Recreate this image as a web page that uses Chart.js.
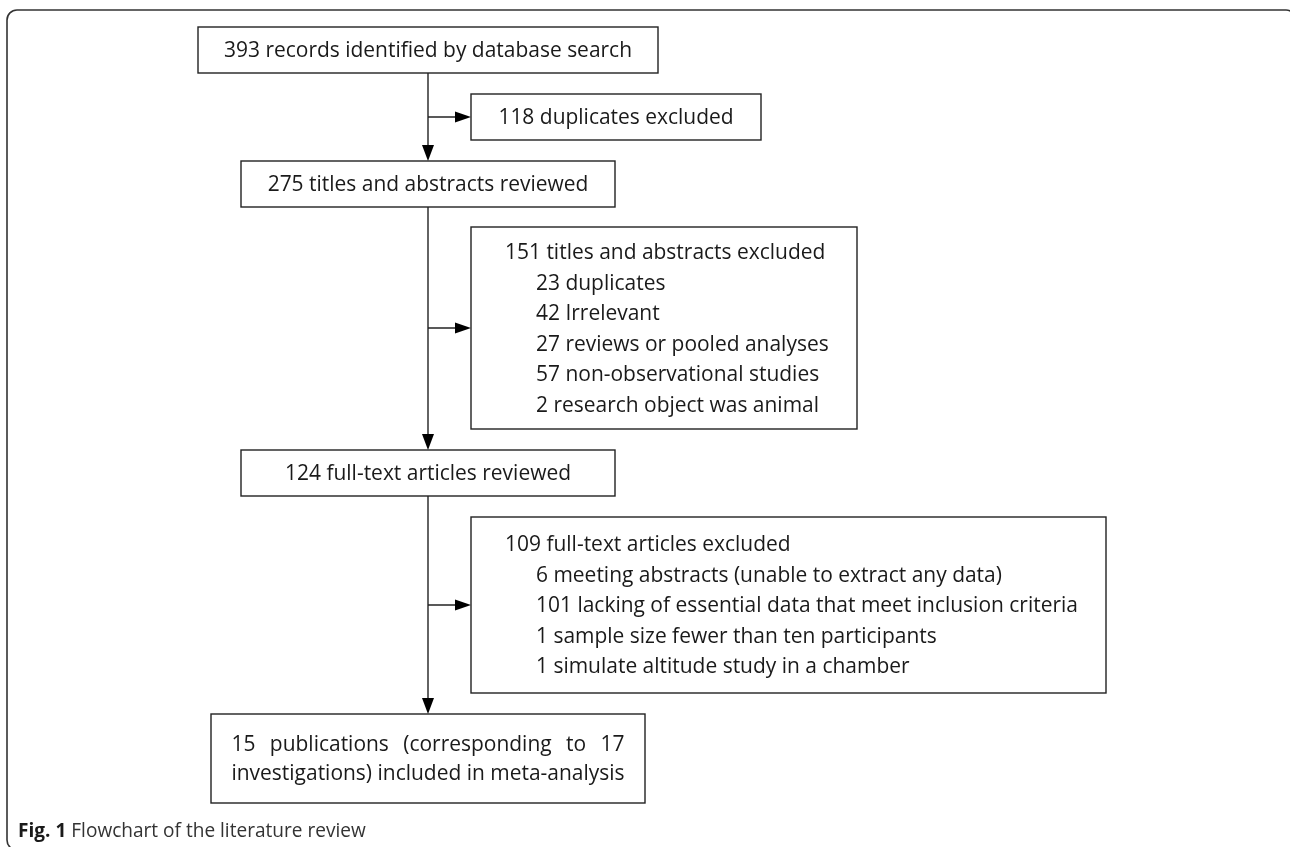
<!DOCTYPE html>
<html>
<head>
<meta charset="utf-8">
<script src="https://cdn.jsdelivr.net/npm/chart.js@4/dist/chart.umd.min.js"></script>
<style>
  html, body { margin: 0; padding: 0; background: #fff; }
  #flow { display: block; }
</style>
</head>
<body>
<canvas id="flow" width="1290" height="847"></canvas>
<script>
// Données du flowchart (effectifs à chaque étape)
const stageCounts = [393, 275, 124, 15];
const stageTexts = [
  'records identified by database search',
  'titles and abstracts reviewed',
  'full-text articles reviewed',
  'publications (corresponding to 17\ninvestigations) included in meta-analysis'
];
const excludedCounts = [118, 151, 109];
const excludedTexts = ['duplicates excluded', 'titles and abstracts excluded', 'full-text articles excluded'];
const reasonCounts151 = [23, 42, 27, 57, 2];
const reasonTexts151 = ['duplicates', 'Irrelevant', 'reviews or pooled analyses', 'non-observational studies', 'research object was animal'];
const reasonCounts109 = [6, 101, 1, 1];
const reasonTexts109 = [
  'meeting abstracts (unable to extract any data)',
  'lacking of essential data that meet inclusion criteria',
  'sample size fewer than ten participants',
  'simulate altitude study in a chamber'
];
const captionBold = 'Fig. 1';
const captionText = 'Flowchart of the literature review';

// mise en page, en unités des axes (0..1290, 0..847)
const layout = {
  spineX: 428,
  main: [[198, 658, 27, 73], [241, 615, 161, 207], [241, 615, 450, 496], [211, 645, 714, 803]],
  side: [[471, 761, 94, 140], [471, 857, 227, 429], [471, 1106, 517, 693]],
  sideTextX: 505,
  indentX: 536,
  lineGap: 30.5,
  finalGap: 29,
  caption: [18, 831],
  frame: [7, 10, 1296, 850]
};

const FONT = '"Open Sans", "Noto Sans", sans-serif';
const SIZE = 22;
const lineColor = '#222';
const textColor = '#1a1a1a';

const flowPlugin = {
  id: 'flow',
  afterDraw(chart) {
    const ctx = chart.ctx;
    const xs = chart.scales.x, ys = chart.scales.y;
    const px = v => xs.getPixelForValue(v);
    const py = v => ys.getPixelForValue(v);

    ctx.save();
    ctx.font = SIZE + 'px ' + FONT;
    // on resserre le texte pour retrouver la largeur de la police d'origine
    const fit = 408 / ctx.measureText(stageCounts[0] + ' ' + stageTexts[0]).width;

    function text(str, x, y, align) {
      ctx.save();
      ctx.font = SIZE + 'px ' + FONT;
      ctx.fillStyle = textColor;
      ctx.textBaseline = 'middle';
      const w = ctx.measureText(str).width * fit;
      let x0 = align === 'center' ? x - w / 2 : x;
      ctx.translate(x0, y + 1);
      ctx.scale(fit, 1);
      ctx.fillText(str, 0, 0);
      ctx.restore();
    }

    function box(b) {
      ctx.strokeStyle = lineColor;
      ctx.lineWidth = 1.4;
      ctx.strokeRect(px(b[0]), py(b[2]), px(b[1]) - px(b[0]), py(b[3]) - py(b[2]));
    }

    function arrowHead(x, y, dir) {
      ctx.fillStyle = '#000';
      ctx.beginPath();
      if (dir === 'down') {
        ctx.moveTo(x, y); ctx.lineTo(x - 6, y - 16); ctx.lineTo(x + 6, y - 16);
      } else {
        ctx.moveTo(x, y); ctx.lineTo(x - 16, y - 5.5); ctx.lineTo(x - 16, y + 5.5);
      }
      ctx.closePath();
      ctx.fill();
    }

    // cadre arrondi de la figure
    const f = layout.frame;
    ctx.strokeStyle = '#333';
    ctx.lineWidth = 1.6;
    ctx.beginPath();
    ctx.roundRect(px(f[0]), py(f[1]), px(f[2]) - px(f[0]), py(f[3]) - py(f[1]), 10);
    ctx.stroke();

    // colonne principale
    const sx = px(layout.spineX);
    ctx.strokeStyle = lineColor;
    ctx.lineWidth = 1.4;
    for (let i = 0; i < layout.main.length - 1; i++) {
      const top = py(layout.main[i][3]);
      const bot = py(layout.main[i + 1][2]);
      ctx.beginPath(); ctx.moveTo(sx, top); ctx.lineTo(sx, bot - 10); ctx.stroke();
      arrowHead(sx, bot, 'down');
      // flèche vers la boîte d'exclusion
      const s = layout.side[i];
      const ay = py((s[2] + s[3]) / 2);
      ctx.strokeStyle = lineColor;
      ctx.beginPath(); ctx.moveTo(sx, ay); ctx.lineTo(px(s[0]) - 10, ay); ctx.stroke();
      arrowHead(px(s[0]), ay, 'right');
    }

    // boîtes principales
    layout.main.forEach((b, i) => {
      box(b);
      const lines = (stageCounts[i] + ' ' + stageTexts[i]).split('\n');
      const cx = px((b[0] + b[1]) / 2);
      const cy = py((b[2] + b[3]) / 2);
      if (lines.length === 1) {
        text(lines[0], cx, cy, 'center');
      } else {
        // texte justifié sur deux lignes
        ctx.font = SIZE + 'px ' + FONT;
        const widths = lines.map(l => ctx.measureText(l).width * fit);
        const full = Math.max(...widths);
        const x0 = cx - full / 2;
        const gap = layout.finalGap;
        lines.forEach((l, k) => {
          const y = cy + (k - (lines.length - 1) / 2) * gap;
          const words = l.split(' ');
          if (k < lines.length - 1 && words.length > 1) {
            const wordsW = words.reduce((a, w) => a + ctx.measureText(w).width * fit, 0);
            const space = (full - wordsW) / (words.length - 1);
            let xx = x0;
            words.forEach(w => { text(w, xx, y, 'left'); xx += ctx.measureText(w).width * fit + space; });
          } else {
            text(l, x0, y, 'left');
          }
        });
      }
    });

    // boîtes d'exclusion
    const sideLines = [
      [[excludedCounts[0] + ' ' + excludedTexts[0], 0]],
      [[excludedCounts[1] + ' ' + excludedTexts[1], 0]].concat(reasonCounts151.map((c, k) => [c + ' ' + reasonTexts151[k], 1])),
      [[excludedCounts[2] + ' ' + excludedTexts[2], 0]].concat(reasonCounts109.map((c, k) => [c + ' ' + reasonTexts109[k], 1]))
    ];
    layout.side.forEach((b, i) => {
      box(b);
      const lines = sideLines[i];
      const cy = (b[2] + b[3]) / 2;
      if (lines.length === 1) {
        text(lines[0][0], px((b[0] + b[1]) / 2), py(cy), 'center');
        return;
      }
      lines.forEach((l, k) => {
        const y = cy + (k - (lines.length - 1) / 2) * layout.lineGap;
        text(l[0], px(l[1] ? layout.indentX : layout.sideTextX), py(y), 'left');
      });
    });

    // légende de la figure
    const c = layout.caption;
    ctx.textBaseline = 'middle';
    ctx.fillStyle = '#1a1a1a';
    ctx.font = 'bold 20px ' + FONT;
    const bw = ctx.measureText(captionBold + ' ').width;
    ctx.save();
    ctx.translate(px(c[0]), py(c[1]));
    ctx.scale(fit, 1);
    ctx.fillText(captionBold + ' ', 0, 0);
    ctx.font = '20px ' + FONT;
    ctx.fillStyle = '#333';
    ctx.fillText(captionText, bw, 0);
    ctx.restore();

    ctx.restore();
  }
};

new Chart(document.getElementById('flow'), {
  type: 'scatter',
  data: { datasets: [{ data: [], pointRadius: 0 }] },
  options: {
    responsive: false,
    animation: false,
    layout: { padding: 0 },
    plugins: { legend: { display: false }, tooltip: { enabled: false } },
    scales: {
      x: { type: 'linear', min: 0, max: 1290, display: false },
      y: { type: 'linear', min: 0, max: 847, reverse: true, display: false }
    }
  },
  plugins: [flowPlugin]
});
</script>
</body>
</html>
